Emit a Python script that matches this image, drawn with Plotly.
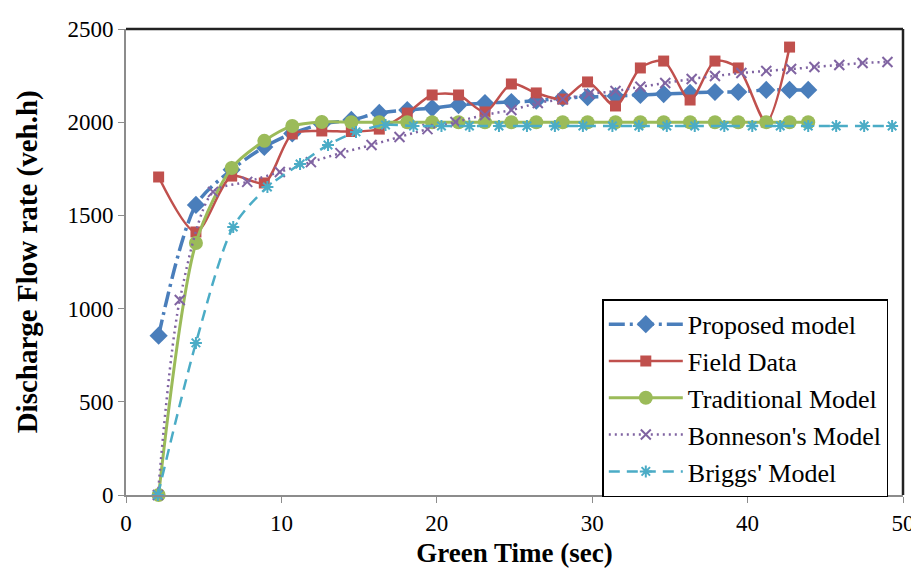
import plotly.graph_objects as go

# x positions shared by proposed / field / traditional series (sec)
t_main = [2.1, 4.5, 6.8, 8.9, 10.7, 12.6, 14.5, 16.3, 18.1, 19.7, 21.4, 23.1, 24.8,
          26.4, 28.1, 29.7, 31.5, 33.1, 34.6, 36.3, 37.9, 39.4, 41.2, 42.7, 43.9]

proposed = [855, 1556, 1745, 1867, 1940, 1990, 2012, 2050, 2065, 2076, 2092, 2103, 2108,
            2115, 2130, 2135, 2140, 2146, 2151, 2157, 2162, 2162, 2173, 2173, 2173]

field = [1706, 1411, 1711, 1674, 1937, 1953, 1950, 1963, 2049, 2146, 2146, 2055, 2205,
         2157, 2124, 2216, 2087, 2291, 2328, 2119, 2328, 2291, 2001, 2403]

traditional = [0, 1352, 1754, 1900, 1980, 2001, 2000, 2000, 2000, 2000, 2000, 2000, 2000,
               2000, 2000, 2000, 2000, 2000, 2000, 2000, 2000, 2000, 2000, 2000, 2000]

t_bonneson = [2.05, 3.46, 5.6, 7.8, 9.9, 11.9, 13.8, 15.8, 17.6, 19.4, 21.2, 23.1, 24.8, 26.5,
              28.1, 29.8, 31.5, 33.1, 34.7, 36.4, 37.9, 39.6, 41.2, 42.8, 44.3, 45.9, 47.4, 49.0]
bonneson = [0, 1046, 1626, 1680, 1733, 1786, 1834, 1878, 1921, 1963, 2001, 2039, 2065, 2103,
            2124, 2151, 2167, 2190, 2210, 2232, 2248, 2264, 2275, 2285, 2296, 2307, 2318, 2323]

t_briggs = [2.05, 4.5, 6.9, 9.1, 11.2, 13.0, 14.8, 16.7, 18.5, 20.3, 22.1, 24.0, 25.8, 27.6,
            29.4, 31.3, 33.0, 34.8, 36.6, 38.5, 40.3, 42.1, 43.9, 45.7, 47.5, 49.3]
briggs = [0, 816, 1438, 1652, 1776, 1878, 1948, 1985, 1980, 1980, 1980, 1980, 1980, 1980,
          1980, 1980, 1980, 1980, 1980, 1980, 1980, 1980, 1980, 1980, 1980, 1980]

FONT = "Liberation Serif"

fig = go.Figure()

fig.add_trace(go.Scatter(
    x=t_main, y=proposed, name="Proposed model", mode="lines+markers",
    line=dict(color="#4A7EBB", width=3.5, shape="spline", smoothing=0.8, dash="16px,5px,3px,5px"),
    marker=dict(symbol="diamond", size=14, color="#4A7EBB"),
    cliponaxis=False,
))
fig.add_trace(go.Scatter(
    x=t_main[:len(field)], y=field, name="Field Data", mode="lines+markers",
    line=dict(color="#C0504D", width=2.5, shape="spline", smoothing=0.8),
    marker=dict(symbol="square", size=11, color="#C0504D"),
    cliponaxis=False,
))
fig.add_trace(go.Scatter(
    x=t_main, y=traditional, name="Traditional Model", mode="lines+markers",
    line=dict(color="#9BBB59", width=3, shape="spline", smoothing=0.8),
    marker=dict(symbol="circle", size=14, color="#9BBB59"),
    cliponaxis=False,
))
fig.add_trace(go.Scatter(
    x=t_bonneson, y=bonneson, name="Bonneson's Model", mode="lines+markers",
    line=dict(color="#8064A2", width=2.5, shape="spline", smoothing=0.8, dash="2px,4px"),
    marker=dict(symbol="x-thin-open", size=10, color="#8064A2", line=dict(width=2, color="#8064A2")),
    cliponaxis=False,
))
fig.add_trace(go.Scatter(
    x=t_briggs, y=briggs, name="Briggs' Model", mode="lines+markers",
    line=dict(color="#4BACC6", width=2.5, shape="spline", smoothing=0.8, dash="11px,7px"),
    marker=dict(symbol="asterisk-open", size=10, color="#4BACC6", line=dict(width=2, color="#4BACC6")),
    cliponaxis=False,
))

# page body adds an 8px offset, so the figure is sized 8px smaller
fig.update_layout(
    width=911, height=560,
    paper_bgcolor="white", plot_bgcolor="white",
    margin=dict(l=118, r=16, t=21, b=73),
    font=dict(family=FONT, size=22, color="black"),
    showlegend=True,
    legend=dict(
        x=0.613, y=0.42, xanchor="left", yanchor="top",
        bgcolor="white", bordercolor="black", borderwidth=1.5,
        font=dict(family=FONT, size=26, color="black"),
        tracegroupgap=0, itemwidth=74,
    ),
    xaxis=dict(
        range=[0, 50], dtick=10, showgrid=False, zeroline=False, automargin=False,
        showline=True, linecolor="#8C8C8C", linewidth=2,
        ticks="outside", ticklen=6, tickcolor="#8C8C8C",
        tickfont=dict(family=FONT, size=23),
        title=dict(text="<b>Green Time (sec)</b>", font=dict(family=FONT, size=27), standoff=13),
    ),
    yaxis=dict(
        range=[0, 2500], dtick=500, showgrid=False, zeroline=False, automargin=False,
        showline=True, linecolor="#8C8C8C", linewidth=2,
        ticks="outside", ticklen=6, tickcolor="#8C8C8C",
        tickfont=dict(family=FONT, size=23),
    ),
)

# y title as an annotation for exact placement
fig.add_annotation(
    text="<b>Discharge Flow rate (veh.h)</b>", textangle=-90,
    xref="paper", yref="paper", x=-0.127, y=0.5, xanchor="center", yanchor="middle",
    showarrow=False, font=dict(family=FONT, size=29, color="black"),
)

# dark frame on top and right of the plot area
fig.add_shape(type="line", xref="paper", yref="paper", x0=0, x1=1, y0=1, y1=1,
              line=dict(color="#222222", width=2.5))
fig.add_shape(type="line", xref="paper", yref="paper", x0=1, x1=1, y0=0, y1=1,
              line=dict(color="#222222", width=2.5))

fig.write_html("out.html")
